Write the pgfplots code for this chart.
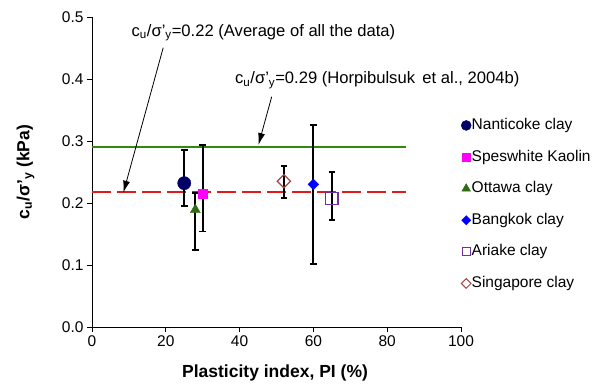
\documentclass[border=0pt]{standalone}
\usepackage{pgfplots}
\pgfplotsset{compat=1.18}
\usepackage{fontspec}
\setmainfont{Liberation Sans}
\usetikzlibrary{arrows.meta}
\definecolor{navyc}{HTML}{000066}
\definecolor{magc}{HTML}{FF00FF}
\definecolor{ottc}{HTML}{2E6B12}
\definecolor{bluec}{HTML}{0000FF}
\definecolor{purc}{HTML}{7030A0}
\definecolor{sinc}{HTML}{9E4A45}
\definecolor{greenl}{HTML}{2F8A0E}
\definecolor{redl}{HTML}{E31A1C}
\newcommand{\ratio}{c\textsubscript{u}/σ'\textsubscript{y}}
\begin{document}
\begin{tikzpicture}
\useasboundingbox (-92bp,-64bp) rectangle (509bp,327bp);
\begin{axis}[
  scale only axis, width=369bp, height=310bp,
  xmin=0, xmax=100, ymin=0, ymax=0.5,
  axis x line*=bottom, axis y line*=left,
  xtick={0,20,40,60,80,100},
  ytick={0,0.1,0.2,0.3,0.4,0.5},
  yticklabel style={/pgf/number format/.cd,fixed,fixed zerofill,precision=1},
  /pgf/number format/assume math mode=true,
  tick align=outside, major tick length=5bp,
  tick style={black, line width=0.8bp},
  axis line style={black, line width=0.8bp},
  ticklabel style={font=\fontsize{15.5bp}{18bp}\selectfont},
  xlabel={Plasticity index, PI (\%)},
  ylabel={\ratio{} (kPa)},
  label style={font=\fontsize{17.5bp}{20bp}\selectfont\bfseries},
  xlabel style={at={(axis description cs:0.496,-0.148)}, anchor=center},
  ylabel style={at={(axis description cs:-0.18,0.5)}, anchor=center, rotate=0},
  legend style={draw=none, fill=none, at={(axis description cs:1.0,0.675)}, anchor=north west,
    font=\fontsize{15.5bp}{18bp}\selectfont, inner sep=0pt, row sep=16.6bp,
    nodes={inner sep=0.5bp, text height=11bp, text depth=3bp}},
  legend cell align=left,
  legend image code/.code={\draw[#1] plot coordinates {(4bp,0bp)};},
  clip=false,
  every axis plot/.append style={
    error bars/error bar style={black, line width=2bp},
    error bars/error mark options={black, rotate=90, mark size=3.3bp, line width=1.8bp}},
]
% reference lines
\addplot[greenl, line width=1.6bp, mark=none, forget plot] table {
x y
0 0.29
85 0.29
};
\addplot[redl, line width=2bp, mark=none, dash pattern=on 19bp off 6bp, forget plot] table {
x y
0 0.218
85 0.218
};

% data with error bars
\addplot[only marks, mark=*, navyc, mark size=6.6bp, forget plot,
  error bars/.cd, y dir=both, y explicit]
  coordinates {(25,0.232) += (0,0.053) -= (0,0.037)};
\addplot[only marks, mark=square*, magc, mark size=4.7bp, forget plot,
  error bars/.cd, y dir=both, y explicit]
  coordinates {(30,0.215) += (0,0.079) -= (0,0.061)};
\addplot[only marks, mark=triangle*, ottc, mark size=5.8bp, forget plot,
  error bars/.cd, y dir=both, y explicit]
  coordinates {(28,0.189) += (0,0.027) -= (0,0.065)};
\addplot[only marks, mark=square*, mark options={rotate=45}, bluec, mark size=3.8bp, forget plot,
  error bars/.cd, y dir=both, y explicit]
  coordinates {(60,0.230) += (0,0.096) -= (0,0.129)};
\addplot[only marks, mark=square, purc, mark size=6.2bp, mark options={line width=1.2bp}, forget plot,
  error bars/.cd, y dir=both, y explicit]
  coordinates {(65,0.207) += (0,0.043) -= (0,0.035)};
\addplot[only marks, mark=square, sinc, mark size=4.7bp, mark options={rotate=45, line width=1.2bp}, forget plot,
  error bars/.cd, y dir=both, y explicit]
  coordinates {(52,0.235) += (0,0.025) -= (0,0.027)};

% legend
\addlegendimage{only marks, mark=*, navyc, mark size=5bp}
\addlegendentry{Nanticoke clay}
\addlegendimage{only marks, mark=square*, magc, mark size=3.8bp}
\addlegendentry{Speswhite Kaolin}
\addlegendimage{only marks, mark=triangle*, ottc, mark size=5bp}
\addlegendentry{Ottawa clay}
\addlegendimage{only marks, mark=square*, mark options={rotate=45}, bluec, mark size=3.3bp}
\addlegendentry{Bangkok clay}
\addlegendimage{only marks, mark=square, mark options={line width=1bp}, purc, mark size=4bp}
\addlegendentry{Ariake clay}
\addlegendimage{only marks, mark=square, mark options={rotate=45, line width=1bp}, sinc, mark size=3.4bp}
\addlegendentry{Singapore clay}

% annotations
\node[anchor=base west, inner sep=0pt, font=\fontsize{16.6bp}{19bp}\selectfont] at (axis cs:10.7,0.469) {\ratio=0.22 (Average of all the data)};
\node[anchor=base west, inner sep=0pt, font=\fontsize{16.6bp}{19bp}\selectfont] at (axis cs:38.75,0.392) {\ratio=0.29 (Horpibulsuk\, et al., 2004b)};
\draw[-{Latex[length=12bp,width=7bp]}, line width=0.8bp, black] (axis cs:19.3,0.4505) -- (axis cs:8.5,0.2166);
\draw[-{Latex[length=12bp,width=7bp]}, line width=0.8bp, black] (axis cs:48.7,0.3715) -- (axis cs:45.1,0.2935);
\end{axis}
\end{tikzpicture}
\end{document}
